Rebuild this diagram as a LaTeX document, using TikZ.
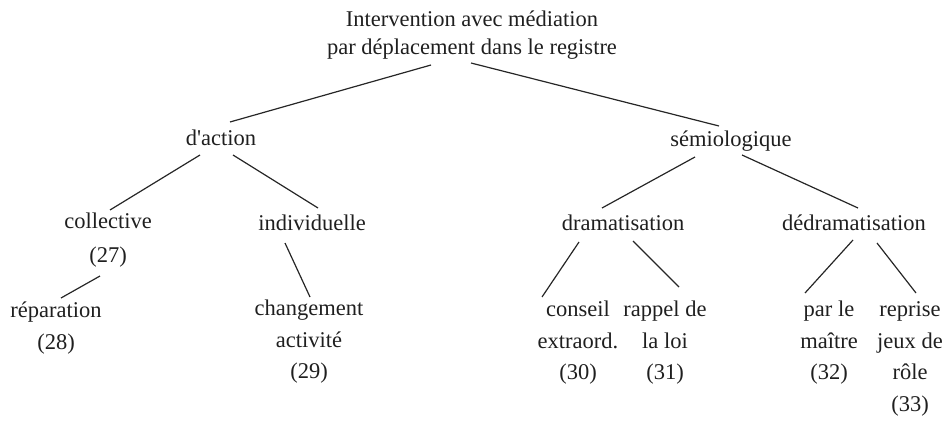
\documentclass[tikz,border=0pt]{standalone}
\usepackage{fontspec}
\setmainfont{Liberation Serif}[Ligatures=ResetAll]
\begin{document}
\begin{tikzpicture}[x=1pt,y=-1pt,
  lbl/.style={inner sep=0pt,align=center,text=black!88,font=\fontsize{22.5}{31.5}\selectfont},
  ttl/.style={lbl,font=\fontsize{22.5}{28}\selectfont},
  edge/.style={line width=1.2pt,black!85}]
\useasboundingbox (0,0) rectangle (949,420);
\node[ttl] (title) at (472,35) {Intervention avec médiation\\par déplacement dans le registre};
\node[lbl] (act) at (221,138) {d\textquotesingle action};
\node[lbl] (sem) at (731,141) {sémiologique};
\node[lbl,font=\fontsize{22.5}{34}\selectfont] (col) at (108,240) {collective\\(27)};
\node[lbl] (ind) at (312,223) {individuelle};
\node[lbl,font=\fontsize{22.5}{32}\selectfont] (rep) at (56,328) {réparation\\(28)};
\node[lbl] (chg) at (309,342) {changement\\activité\\(29)};
\node[lbl] (dra) at (623,223) {dramatisation};
\node[lbl] (ded) at (854,223) {dédramatisation};
\node[lbl] (con) at (578,343) {conseil\\extraord.\\(30)};
\node[lbl] (rap) at (665,343) {rappel de\\la loi\\(31)};
\node[lbl] (mai) at (829,343) {par le\\maître\\(32)};
\node[lbl] (rpr) at (910,359) {reprise\\jeux de\\rôle\\(33)};
\draw[edge] ([shift={(-41,30)}]title.center) -- ([shift={(9,-16)}]act.center);
\draw[edge] ([shift={(-1,28)}]title.center) -- ([shift={(-12,-15)}]sem.center);
\draw[edge] ([shift={(-21,17)}]act.center) -- ([shift={(2,-30)}]col.center);
\draw[edge] ([shift={(12,17)}]act.center) -- ([shift={(6,-15)}]ind.center);
\draw[edge] ([shift={(-8,36)}]col.center) -- ([shift={(5,-30)}]rep.center);
\draw[edge] ([shift={(-27,20)}]ind.center) -- ([shift={(1,-45)}]chg.center);
\draw[edge] ([shift={(-36,16)}]sem.center) -- ([shift={(-21,-15)}]dra.center);
\draw[edge] ([shift={(11,14)}]sem.center) -- ([shift={(4,-15)}]ded.center);
\draw[edge] ([shift={(-44,19)}]dra.center) -- ([shift={(-36,-46)}]con.center);
\draw[edge] ([shift={(10,18)}]dra.center) -- ([shift={(14,-56)}]rap.center);
\draw[edge] ([shift={(-1,17)}]ded.center) -- ([shift={(-24,-50)}]mai.center);
\draw[edge] ([shift={(23,20)}]ded.center) -- ([shift={(6,-66)}]rpr.center);
\end{tikzpicture}
\end{document}
